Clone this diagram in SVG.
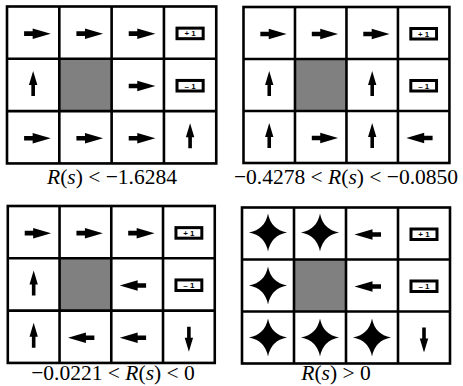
<svg xmlns="http://www.w3.org/2000/svg" xmlns:xlink="http://www.w3.org/1999/xlink" width="463" height="386" viewBox="0 0 463 386">
<style>
.grid{fill:none;stroke:#000;stroke-width:2.6}
.gray{fill:#808080}
.arr{fill:#000}
.box{fill:#fff;stroke:#000;stroke-width:3}
.bt{font-family:"Liberation Sans",Arial,sans-serif;font-size:8px;font-weight:bold;text-anchor:middle;fill:#000}
.cap{font-family:"Liberation Serif","Times New Roman",serif;font-size:21.5px;text-anchor:middle;fill:#000}
.it{font-style:italic}
</style>
<defs>
<path id="ar" class="arr" d="M-9,-2.3 L-0.5,-2.3 L-0.5,-5.2 L17.5,0 L-0.5,5.2 L-0.5,2.3 L-9,2.3 Z" transform="translate(0,1)"/>
<path id="al" class="arr" d="M9,-2.3 L0.5,-2.3 L0.5,-5.2 L-17.5,0 L0.5,5.2 L0.5,2.3 L9,2.3 Z" transform="translate(0,1)"/>
<path id="au" class="arr" d="M-1.8,11 L-1.8,0 L-4.2,0 L0,-14 L4.2,0 L1.8,0 L1.8,11 Z"/>
<path id="ad" class="arr" d="M-1.8,-10 L-1.8,1 L-4.2,1 L0,15 L4.2,1 L1.8,1 L1.8,-10 Z"/>
<path id="st" class="arr" d="M0,-19 Q3,-3 19,0 Q3,3 0,19 Q-3,3 -19,0 Q-3,-3 0,-19 Z"/>
<g id="grid">
<rect class="gray" x="52" y="52" width="52" height="52"/>
<rect class="grid" x="0" y="0" width="208" height="156"/>
<path class="grid" d="M52,0V156M104,0V156M156,0V156M0,52H208M0,104H208"/>
<rect class="box" x="169" y="21.5" width="26" height="10.5"/>
<text class="bt" x="182" y="29.8">+ 1</text>
<rect class="box" x="169" y="73.5" width="26" height="10.5"/>
<text class="bt" x="182" y="81.8">– 1</text>
</g>
</defs>

<g id="panel1" transform="translate(7,6.5) scale(1.006,1.006)">
<use xlink:href="#grid"/>
<use xlink:href="#ar" x="26" y="26"/>
<use xlink:href="#ar" x="78" y="26"/>
<use xlink:href="#ar" x="130" y="26"/>
<use xlink:href="#au" x="26" y="78"/>
<use xlink:href="#ar" x="130" y="78"/>
<use xlink:href="#ar" x="26" y="130"/>
<use xlink:href="#ar" x="78" y="130"/>
<use xlink:href="#ar" x="130" y="130"/>
<use xlink:href="#au" x="182" y="130"/>
</g>

<g id="panel2" transform="translate(243.5,7) scale(0.99,1)">
<use xlink:href="#grid"/>
<use xlink:href="#ar" x="26" y="26"/>
<use xlink:href="#ar" x="78" y="26"/>
<use xlink:href="#ar" x="130" y="26"/>
<use xlink:href="#au" x="26" y="78"/>
<use xlink:href="#au" x="130" y="78"/>
<use xlink:href="#au" x="26" y="130"/>
<use xlink:href="#ar" x="78" y="130"/>
<use xlink:href="#au" x="130" y="130"/>
<use xlink:href="#al" x="182" y="130"/>
</g>

<g id="panel3" transform="translate(7.8,206) scale(0.995,1.006)">
<use xlink:href="#grid"/>
<use xlink:href="#ar" x="26" y="26"/>
<use xlink:href="#ar" x="78" y="26"/>
<use xlink:href="#ar" x="130" y="26"/>
<use xlink:href="#au" x="26" y="78"/>
<use xlink:href="#al" x="130" y="78"/>
<use xlink:href="#au" x="26" y="130"/>
<use xlink:href="#al" x="78" y="130"/>
<use xlink:href="#al" x="130" y="130"/>
<use xlink:href="#ad" x="182" y="130"/>
</g>

<g id="panel4" transform="translate(242,207.5)">
<use xlink:href="#grid"/>
<use xlink:href="#st" x="26" y="25"/>
<use xlink:href="#st" x="78" y="25"/>
<use xlink:href="#al" x="130" y="26"/>
<use xlink:href="#st" x="26" y="78"/>
<use xlink:href="#al" x="130" y="78"/>
<use xlink:href="#st" x="26" y="130"/>
<use xlink:href="#st" x="78" y="130"/>
<use xlink:href="#st" x="130" y="130"/>
<use xlink:href="#ad" x="182" y="130"/>
</g>

<g id="captions">
<text class="cap" x="112" y="184"><tspan class="it">R</tspan>(<tspan class="it">s</tspan>) &lt; −1.6284</text>
<text class="cap" x="346" y="184">−0.4278 &lt; <tspan class="it">R</tspan>(<tspan class="it">s</tspan>) &lt; −0.0850</text>
<text class="cap" x="113" y="380">−0.0221 &lt; <tspan class="it">R</tspan>(<tspan class="it">s</tspan>) &lt; 0</text>
<text class="cap" x="336" y="380"><tspan class="it">R</tspan>(<tspan class="it">s</tspan>) &gt; 0</text>
</g>
</svg>
